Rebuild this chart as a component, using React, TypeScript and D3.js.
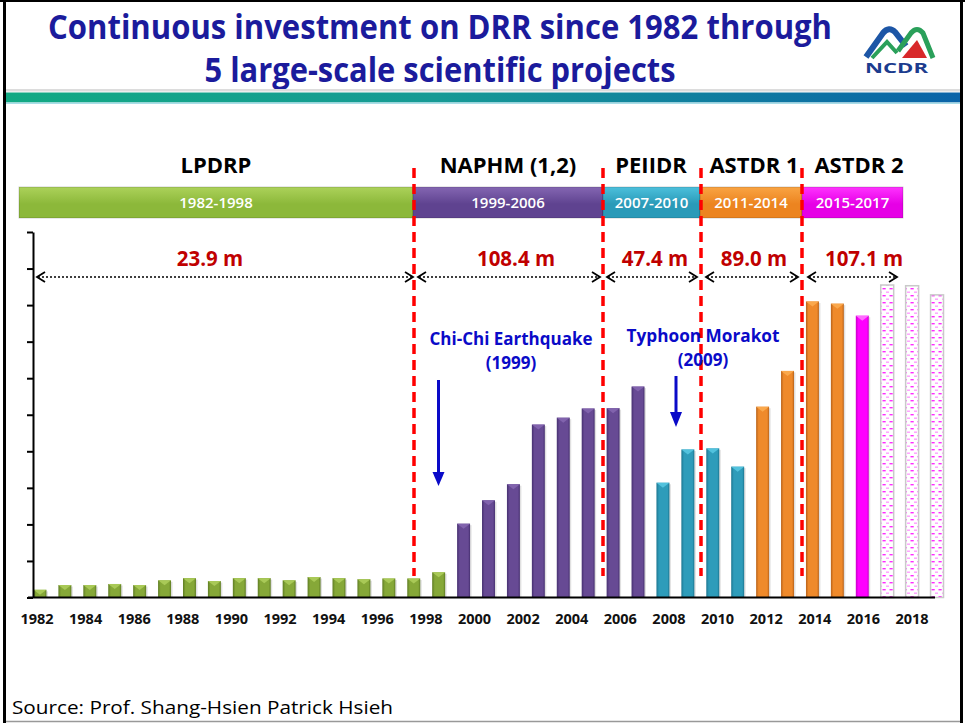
import React, { useRef, useEffect } from 'react';
import * as d3 from 'd3';

// yearly budget, in 100 million NTD
const YEARS = d3.range(1982, 2019);
const VALUES = [
  0.21, 0.34, 0.34, 0.37, 0.34, 0.47, 0.53, 0.45, 0.53, 0.53, 0.47, 0.56, 0.53, 0.5, 0.52, 0.52, 0.69,
  2.02, 2.66, 3.1, 4.73, 4.92, 5.17, 5.18, 5.77,
  3.14, 4.05, 4.08, 3.58,
  5.22, 6.2, 8.1, 8.04,
  7.71, 8.55, 8.53, 8.28,
];
// first year of each bar colour group
const PHASE_START = [1982, 1999, 2007, 2011, 2015, 2016];
const PHASE_KEYS = ['green', 'purple', 'teal', 'orange', 'magenta', 'hatch'];
const LABEL_YEARS = d3.range(1982, 2019, 2);
const Y_TICKS = d3.range(0, 11);

const PROJECTS = ['LPDRP', 'NAPHM (1,2)', 'PEIIDR', 'ASTDR 1', 'ASTDR 2'];
const PERIODS = ['1982-1998', '1999-2006', '2007-2010', '2011-2014', '2015-2017'];
const BUDGETS = ['23.9 m', '108.4 m', '47.4 m', '89.0 m', '107.1 m'];

// layout of the project row (not data)
const BAND_X = [19, 413, 603, 700, 802, 903];
const DIVIDERS = [414, 603, 701, 802];
const ARROWS: [number, number][] = [[37, 413], [418, 600], [607, 697], [706, 798], [808, 897]];
const BUDGET_X = [210, 516, 655, 754, 864];
const HEADER_X = [216, 508, 651, 754, 859];

const PAL: Record<string, { light: string; mid: string; dark: string }> = {
  green: { light: '#a9c957', mid: '#86a838', dark: '#5e7c22' },
  purple: { light: '#8163ad', mid: '#674a94', dark: '#463070' },
  teal: { light: '#52c2dd', mid: '#2e9cba', dark: '#1b7590' },
  orange: { light: '#faa84c', mid: '#ef8a2b', dark: '#b8621a' },
  magenta: { light: '#ff6bff', mid: '#ff00ff', dark: '#c800c8' },
};
const BAND_FILL = [
  ['#acd25a', '#8cb83a'],
  ['#8466b2', '#5f4390'],
  ['#4cc0dc', '#2a9ab8'],
  ['#f9a443', '#ec8420'],
  ['#ff33ff', '#e600e6'],
];

const FONT = "'Open Sans', 'Liberation Sans', sans-serif";

const phaseOf = (yr: number) => PHASE_KEYS[d3.bisectRight(PHASE_START, yr) - 1];

export default function App() {
  const yAxisRef = useRef<SVGGElement>(null);

  const x = d3.scaleBand<number>().domain(YEARS).range([27.5, 949.5]).paddingInner(0.48).paddingOuter(0.24);
  const y = d3.scaleLinear().domain([0, 10]).range([597.5, 232]);
  const xl = d3.scaleLinear().domain([1982, 2018]).range([37, 912]);
  const bw = x.bandwidth();

  useEffect(() => {
    if (!yAxisRef.current) return;
    const g = d3.select(yAxisRef.current);
    g.selectAll('*').remove();
    g.call(d3.axisLeft(y).tickValues(Y_TICKS).tickSize(6).tickSizeOuter(0).tickFormat(() => ''));
    g.selectAll('.domain').attr('stroke', '#000').attr('stroke-width', 2);
    g.selectAll('.tick line').attr('stroke', '#000').attr('stroke-width', 2);
  }, []);

  return (
    <svg width={965} height={723} style={{ position: 'absolute', left: 0, top: 0, background: '#fff' }}>
      <defs>
        {Object.entries(PAL).map(([k, c]) => (
          <linearGradient key={k} id={`bar-${k}`} x1="0" x2="1" y1="0" y2="0">
            <stop offset="0" stopColor={c.dark} />
            <stop offset="0.2" stopColor={c.mid} />
            <stop offset="0.5" stopColor={c.mid} />
            <stop offset="0.85" stopColor={c.mid} />
            <stop offset="1" stopColor={c.dark} />
          </linearGradient>
        ))}
        {BAND_FILL.map((c, i) => (
          <linearGradient key={i} id={`band-${i}`} x1="0" x2="0" y1="0" y2="1">
            <stop offset="0" stopColor={c[0]} />
            <stop offset="0.55" stopColor={c[1]} />
            <stop offset="1" stopColor={c[1]} />
          </linearGradient>
        ))}
        <linearGradient id="strip" x1="0" x2="1" y1="0" y2="0">
          <stop offset="0" stopColor="#12a983" />
          <stop offset="0.45" stopColor="#169a95" />
          <stop offset="1" stopColor="#0a63a8" />
        </linearGradient>
        <pattern id="hatch" width="7" height="7" patternUnits="userSpaceOnUse">
          <rect width="7" height="7" fill="#fff" />
          <rect x="0.5" y="1" width="3.2" height="1.4" fill="#ff2bff" />
          <rect x="4" y="4.5" width="3.2" height="1.4" fill="#ff9cff" />
        </pattern>
      </defs>

      {/* frame */}
      <line x1={4.5} y1={0} x2={4.5} y2={723} stroke="#000" strokeWidth={3} />
      <line x1={961.5} y1={0} x2={961.5} y2={723} stroke="#000" strokeWidth={3} />
      <line x1={0} y1={1} x2={965} y2={1} stroke="#000" strokeWidth={2} />
      <line x1={6} y1={721.5} x2={960} y2={721.5} stroke="#999" strokeWidth={1.5} />

      {/* title */}
      <g fill="#1b1b9c" fontFamily={FONT} fontWeight="bold" fontSize={34} textAnchor="middle">
        <text x={440} y={39} textLength={784} lengthAdjust="spacingAndGlyphs">
          Continuous investment on DRR since 1982 through
        </text>
        <text x={440} y={82} textLength={471} lengthAdjust="spacingAndGlyphs">
          5 large-scale scientific projects
        </text>
      </g>

      {/* logo */}
      <g>
        <path d="M866,57 L883,33 Q889,26 895,32 L906,46" fill="none" stroke="#1d56a6" strokeWidth={6} />
        <path d="M872,58 L887,42 L897,53" fill="none" stroke="#2aa05a" strokeWidth={4} />
        <path d="M898,51 L911,33 Q917,26 923,33 L933,58" fill="none" stroke="#2aa05a" strokeWidth={5} />
        <path d="M902,58 L917,40 L927,58 Z" fill="#d8282a" />
        <text x={865} y={73} textLength={63} lengthAdjust="spacingAndGlyphs" fontFamily={FONT}
          fontWeight="bold" fontSize={14} fill="#1c3c8e">NCDR</text>
      </g>

      {/* divider strip */}
      <rect x={6} y={89} width={954} height={2.5} fill="#dcdcdc" />
      <rect x={6} y={92.5} width={954} height={10} fill="url(#strip)" />
      <rect x={6} y={102.5} width={954} height={1.5} fill="#a9dde8" />

      {/* project headers and period bands */}
      {PROJECTS.map((p, i) => (
        <text key={p} x={HEADER_X[i]} y={173} textAnchor="middle" fontFamily={FONT}
          fontWeight="bold" fontSize={22} fill="#000">{p}</text>
      ))}
      {PERIODS.map((p, i) => (
        <g key={p}>
          <rect x={BAND_X[i]} y={187} width={BAND_X[i + 1] - BAND_X[i]} height={31}
            fill={`url(#band-${i})`} stroke="rgba(0,0,0,0.18)" strokeWidth={1} />
          <text x={(BAND_X[i] + BAND_X[i + 1]) / 2} y={208} textAnchor="middle" fontFamily={FONT}
            fontSize={15} fontWeight={600} fill="#fff">{p}</text>
        </g>
      ))}

      {/* bars */}
      {YEARS.map((yr, i) => {
        const ph = phaseOf(yr);
        const bx = x(yr) as number;
        const top = y(VALUES[i]);
        const h = y(0) - top;
        if (ph === 'hatch') {
          return (
            <rect key={yr} x={bx} y={top} width={bw} height={h} fill="url(#hatch)"
              stroke="#c9c9c9" strokeWidth={1.5} />
          );
        }
        return (
          <g key={yr}>
            <rect x={bx + 1.5} y={top + 1.5} width={bw} height={h - 1.5} fill="rgba(0,0,0,0.12)" />
            <rect x={bx} y={top} width={bw} height={h} fill={`url(#bar-${ph})`} />
            <path d={`M${bx},${top} L${bx + bw},${top} L${bx + bw / 2},${top + 5} Z`} fill={PAL[ph].light} />
          </g>
        );
      })}

      {/* axes */}
      <g ref={yAxisRef} transform="translate(33,0)" />
      <line x1={28} y1={y(0)} x2={935} y2={y(0)} stroke="#000" strokeWidth={2} />
      {LABEL_YEARS.map((yr) => (
        <text key={yr} x={xl(yr)} y={624} textAnchor="middle" fontFamily={FONT}
          fontWeight="bold" fontSize={14.5} fill="#111">{yr}</text>
      ))}

      {/* project dividers */}
      {DIVIDERS.map((dx) => (
        <line key={dx} x1={dx} y1={168} x2={dx} y2={576} stroke="#ff0000" strokeWidth={3.5}
          strokeDasharray="10 6" />
      ))}

      {/* budget arrows */}
      {ARROWS.map(([a, b], i) => (
        <g key={i} stroke="#000" fill="none">
          <line x1={a + 1} y1={277} x2={b - 1} y2={277} strokeWidth={1.6} strokeDasharray="2 2" />
          <path d={`M${a + 8},${272} L${a},${277} L${a + 8},${282}`} strokeWidth={1.8} />
          <path d={`M${b - 8},${272} L${b},${277} L${b - 8},${282}`} strokeWidth={1.8} />
        </g>
      ))}
      {BUDGETS.map((t, i) => (
        <text key={t} x={BUDGET_X[i]} y={266} textAnchor="middle" fontFamily={FONT}
          fontWeight="bold" fontSize={20.5} fill="#c00000">{t}</text>
      ))}

      {/* events */}
      <g fill="#0a0ac8" fontFamily={FONT} fontWeight="bold" fontSize={17} textAnchor="middle">
        <text x={511} y={345} textLength={163} lengthAdjust="spacingAndGlyphs">Chi-Chi Earthquake</text>
        <text x={511} y={369}>(1999)</text>
        <text x={703} y={342} textLength={153} lengthAdjust="spacingAndGlyphs">Typhoon Morakot</text>
        <text x={703} y={366}>(2009)</text>
      </g>
      <g fill="#0a0ac8" stroke="#0a0ac8">
        <line x1={438.5} y1={380} x2={438.5} y2={474} strokeWidth={3} />
        <path d="M432.5,472 L444.5,472 L438.5,486 Z" strokeWidth={0} />
        <line x1={676} y1={376} x2={676} y2={414} strokeWidth={3} />
        <path d="M670,412 L682,412 L676,427 Z" strokeWidth={0} />
      </g>

      {/* source */}
      <text x={12} y={714} fontFamily={FONT} fontSize={19} fill="#000" textLength={381}
        lengthAdjust="spacingAndGlyphs">Source: Prof. Shang-Hsien Patrick Hsieh</text>
    </svg>
  );
}
